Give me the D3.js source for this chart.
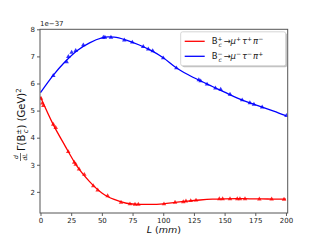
<!DOCTYPE html>
<html>
<head>
<meta charset="utf-8">
<script src="https://cdn.jsdelivr.net/npm/d3@7"></script>
<style>
  body { margin: 0; background: #fff; }
  text { font-family: "DejaVu Sans", sans-serif; }
</style>
</head>
<body>
<div id="chart"></div>
<script>
// fitted curves (L in mm, value in units of 1e-37)
var curveL = [0, 10, 20, 30, 40, 50, 55, 60, 70, 80, 90, 100, 110, 120, 130, 140, 150, 160, 170, 180, 190, 200];
var redCurve = [5.50, 4.52, 3.70, 2.93, 2.38, 1.96, 1.82, 1.72, 1.58, 1.54, 1.54, 1.56, 1.61, 1.66, 1.70, 1.73, 1.745, 1.75, 1.745, 1.74, 1.735, 1.73];
var blueCurve = [5.66, 6.28, 6.80, 7.22, 7.50, 7.68, 7.72, 7.71, 7.60, 7.43, 7.22, 6.95, 6.60, 6.33, 6.10, 5.89, 5.68, 5.47, 5.29, 5.14, 4.98, 4.81];

// sampled points (triangles)
var redPtsL = [0.4, 1.5, 2.3, 10.4, 12.4, 22.6, 27.5, 28.7, 31.4, 35.7, 43, 46.6, 54.7, 65.6, 72.9, 77, 79.7, 100.6, 109.6, 116.3, 118.5, 122.4, 126.7, 145.7, 148.4, 154.4, 160.3, 162.5, 166.6, 178.3, 188.3, 198.4];
var redPtsV = [5.45, 5.27, 5.18, 4.49, 4.37, 3.48, 3.09, 3.01, 2.84, 2.64, 2.22, 2.06, 1.85, 1.61, 1.55, 1.54, 1.54, 1.55, 1.61, 1.63, 1.66, 1.67, 1.69, 1.74, 1.74, 1.74, 1.74, 1.74, 1.74, 1.73, 1.73, 1.72];
var bluePtsL = [10.4, 21.3, 22.7, 25.4, 28.7, 34.9, 51.2, 52.5, 57.4, 68.3, 74.8, 83.7, 87.8, 91.4, 100, 110.7, 129, 130.5, 135.7, 142.5, 146.8, 154.4, 164.3, 170.6, 173.9, 180.6, 200.4];
var bluePtsV = [6.29, 6.80, 6.99, 7.15, 7.21, 7.42, 7.70, 7.70, 7.70, 7.60, 7.52, 7.36, 7.27, 7.20, 6.94, 6.57, 6.13, 6.09, 5.97, 5.83, 5.78, 5.60, 5.39, 5.28, 5.23, 5.13, 4.81];

var xTicks = [0, 25, 50, 75, 100, 125, 150, 175, 200];
var yTicks = [2, 3, 4, 5, 6, 7, 8];

var svgWidth = 320;
var svgHeight = 240;
var margin = { top: 29.3, right: 32.3, bottom: 27, left: 40 };
var width = svgWidth - margin.left - margin.right;
var height = svgHeight - margin.top - margin.bottom;

var svg = d3.select("#chart")
  .append("svg")
  .attr("width", svgWidth)
  .attr("height", svgHeight);

var chartGroup = svg.append("g")
  .attr("transform", `translate(${margin.left}, ${margin.top})`);

var xScale = d3.scaleLinear().domain([-0.4, 201.4]).range([0, width]);
var yScale = d3.scaleLinear().domain([1.22, 8.0]).range([height, 0]);

// axes
var bottomAxis = d3.axisBottom(xScale).tickValues(xTicks).tickFormat(d3.format("d")).tickSize(3).tickPadding(2);
var leftAxis = d3.axisLeft(yScale).tickValues(yTicks).tickFormat(d3.format("d")).tickSize(3).tickPadding(2);

var xAxis = chartGroup.append("g")
  .attr("transform", `translate(0, ${height})`)
  .call(bottomAxis);
var yAxis = chartGroup.append("g").call(leftAxis);

[xAxis, yAxis].forEach(function(ax) {
  ax.select(".domain").remove();
  ax.selectAll("line").attr("stroke", "#333").attr("stroke-width", 0.8);
  ax.selectAll("text").attr("font-size", 7).attr("fill", "#222")
    .style("font-family", "'DejaVu Sans', sans-serif");
});

// curves
var line = d3.line()
  .x(function(d, i) { return xScale(curveL[i]); })
  .y(function(d) { return yScale(d); })
  .curve(d3.curveMonotoneX);

chartGroup.append("clipPath").attr("id", "clip")
  .append("rect").attr("width", width).attr("height", height);

var plotArea = chartGroup.append("g").attr("clip-path", "url(#clip)");

plotArea.append("path")
  .attr("d", line(redCurve))
  .attr("fill", "none")
  .attr("stroke", "red")
  .attr("stroke-width", 1.3);

plotArea.append("path")
  .attr("d", line(blueCurve))
  .attr("fill", "none")
  .attr("stroke", "blue")
  .attr("stroke-width", 1.3);

var tri = d3.symbol().type(d3.symbolTriangle).size(9);

plotArea.selectAll(".redPt")
  .data(redPtsL)
  .enter()
  .append("path")
  .attr("class", "redPt")
  .attr("d", tri)
  .attr("transform", (d, i) => `translate(${xScale(d)}, ${yScale(redPtsV[i])})`)
  .attr("fill", "red")
  .attr("opacity", 0.8);

plotArea.selectAll(".bluePt")
  .data(bluePtsL)
  .enter()
  .append("path")
  .attr("class", "bluePt")
  .attr("d", tri)
  .attr("transform", (d, i) => `translate(${xScale(d)}, ${yScale(bluePtsV[i])})`)
  .attr("fill", "blue")
  .attr("opacity", 0.8);

// frame
chartGroup.append("rect")
  .attr("width", width)
  .attr("height", height)
  .attr("fill", "none")
  .attr("stroke", "#555")
  .attr("stroke-width", 1);

// offset text
chartGroup.append("text")
  .attr("x", 0)
  .attr("y", -3)
  .attr("font-size", 7)
  .attr("fill", "#222")
  .text("1e\u221237");

// legend
var legend = chartGroup.append("g")
  .attr("transform", `translate(${width - 107}, 2.5)`);

legend.append("rect")
  .attr("x", 1.5).attr("y", 1.5)
  .attr("width", 105).attr("height", 34)
  .attr("rx", 2)
  .attr("fill", "#999")
  .attr("opacity", 0.6);
legend.append("rect")
  .attr("width", 105).attr("height", 34)
  .attr("rx", 2)
  .attr("fill", "white")
  .attr("stroke", "#ccc")
  .attr("stroke-width", 0.8);

var legendItems = [
  { color: "red", s1: "+", s2: "+", s3: "+", s4: "\u2212" },
  { color: "blue", s1: "\u2212", s2: "\u2212", s3: "\u2212", s4: "+" }
];

legendItems.forEach(function(item, i) {
  var ly = 9.5 + i * 15;
  legend.append("line")
    .attr("x1", 4).attr("x2", 24)
    .attr("y1", ly).attr("y2", ly)
    .attr("stroke", item.color)
    .attr("stroke-width", 1.3);
  var t = legend.append("text")
    .attr("x", 31)
    .attr("y", ly + 3)
    .attr("font-size", 8.5)
    .attr("fill", "#222");
  t.append("tspan").text("B");
  t.append("tspan").attr("font-size", 6).attr("dy", -3.5).text(item.s1);
  t.append("tspan").attr("font-size", 6).attr("dx", -4).attr("dy", 6.5).attr("font-style", "italic").text("c");
  t.append("tspan").attr("dy", -3).attr("dx", 1.5).text("\u2192");
  t.append("tspan").attr("font-style", "italic").text("\u03bc");
  t.append("tspan").attr("font-size", 6).attr("dy", -3.5).text(item.s2);
  t.append("tspan").attr("dy", 3.5).attr("dx", 1).attr("font-style", "italic").text("\u03c4");
  t.append("tspan").attr("font-size", 6).attr("dy", -3.5).text(item.s3);
  t.append("tspan").attr("dy", 3.5).attr("dx", 1).attr("font-style", "italic").text("\u03c0");
  t.append("tspan").attr("font-size", 6).attr("dy", -3.5).text(item.s4);
});

// x label
var xLabel = svg.append("text")
  .attr("x", margin.left + width / 2)
  .attr("y", 233)
  .attr("text-anchor", "middle")
  .attr("font-size", 9.5)
  .attr("fill", "#111");
xLabel.append("tspan").attr("font-style", "italic").text("L");
xLabel.append("tspan").text(" (");
xLabel.append("tspan").attr("font-style", "italic").text("mm");
xLabel.append("tspan").text(")");

// y label (rotated)
var yLab = svg.append("g")
  .attr("transform", "translate(22, 120) rotate(-90)");

yLab.append("text").attr("x", -37).attr("y", -4).attr("font-size", 6)
  .attr("font-style", "italic").attr("text-anchor", "middle").text("d");
yLab.append("line").attr("x1", -41).attr("x2", -33).attr("y1", -1.5).attr("y2", -1.5)
  .attr("stroke", "#111").attr("stroke-width", 0.6);
yLab.append("text").attr("x", -37).attr("y", 4.5).attr("font-size", 6)
  .attr("font-style", "italic").attr("text-anchor", "middle").text("dL");

var yText = yLab.append("text")
  .attr("x", -31)
  .attr("y", 3)
  .attr("font-size", 10)
  .attr("fill", "#111");
yText.append("tspan").text("\u0393(B");
yText.append("tspan").attr("font-size", 7).attr("dy", -4).text("\u00b1");
yText.append("tspan").attr("font-size", 7).attr("dx", -4.5).attr("dy", 7).attr("font-style", "italic").text("c");
yText.append("tspan").attr("dy", -3).attr("dx", 1).text(")  (GeV)");
yText.append("tspan").attr("font-size", 7).attr("dy", -4).text("2");
</script>
</body>
</html>
